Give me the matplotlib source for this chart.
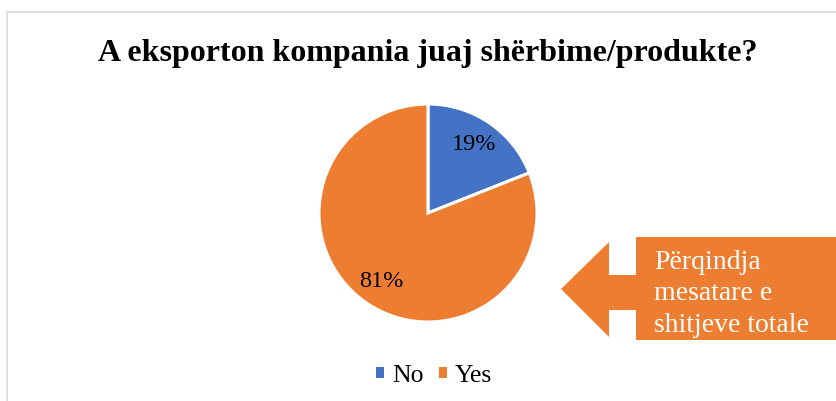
import matplotlib
matplotlib.use('Agg')
from matplotlib import pyplot as plt
from matplotlib.patches import Polygon, Rectangle

# te dhenat
labels = ['No', 'Yes']
values = [19, 81]
colors = ['#4472C4', '#ED7D31']
title = 'A eksporton kompania juaj shërbime/produkte?'
note_lines = ['Përqindja', 'mesatare e', 'shitjeve totale']

W, H = 837, 401

def fx(x):
	return x / W

def fy(y):
	return 1 - y / H

plt.rcParams['font.family'] = ['Liberation Serif', 'DejaVu Serif']

fig = plt.figure(figsize=(W / 100, H / 100), dpi=100)

# korniza e grafikut
fig.patches.append(Rectangle((fx(7), fy(H + 10)), fx(W + 20), fy(12) - fy(H + 10),
	transform=fig.transFigure, fill=False, edgecolor='#d9d9d9', linewidth=1.2))

fig.text(fx(428), fy(53), title, ha='center', va='center', fontsize=23, fontweight='bold')

# pie
cx, cy, r = 428, 213, 109
ax = fig.add_axes([fx(cx - r), fy(cy + r), (2 * r) / W, (2 * r) / H])
wedges, _, autotexts = ax.pie(values, colors=colors, startangle=90, counterclock=False,
	autopct='%d%%', pctdistance=0.76, radius=1,
	wedgeprops=dict(edgecolor='white', linewidth=2.2),
	textprops=dict(fontsize=17.5, color='black'))
ax.set_xlim(-1, 1)
ax.set_ylim(-1, 1)
ax.set_aspect('equal')

leg = fig.legend(wedges, labels, loc='center', bbox_to_anchor=(fx(434), fy(376)),
	ncol=2, frameon=False, fontsize=18.5, handlelength=0.3, handleheight=0.3,
	handletextpad=0.3, columnspacing=0.6)
for h in leg.legend_handles:
	h.set_edgecolor('none')

# shigjeta
arrow = [(561, 289), (609, 242), (609, 275), (636, 275), (636, 237), (850, 237),
	(850, 340), (636, 340), (636, 310), (609, 310), (609, 337)]
fig.patches.append(Polygon([(fx(x), fy(y)) for x, y in arrow], closed=True,
	transform=fig.transFigure, facecolor='#ED7D31', edgecolor='none'))
for i, line in enumerate(note_lines):
	fig.text(fx(654), fy(269 + 31.5 * i), line, ha='left', va='baseline',
		fontsize=20, color='white')

fig.savefig('out.png', dpi=100)
